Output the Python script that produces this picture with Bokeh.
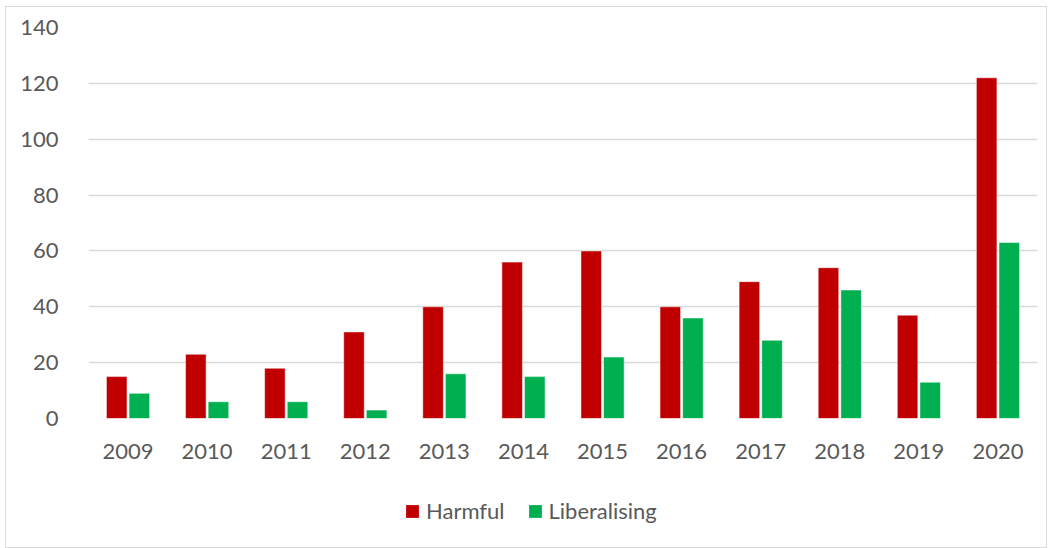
from bokeh.plotting import figure
from bokeh.layouts import column
from bokeh.models import ColumnDataSource, FactorRange, Range1d, FixedTicker, Legend, LegendItem
from bokeh.transform import dodge
from bokeh.embed import file_html
from bokeh.resources import INLINE

years = ["2009", "2010", "2011", "2012", "2013", "2014", "2015", "2016", "2017", "2018", "2019", "2020"]
harmful = [15, 23, 18, 31, 40, 56, 60, 40, 49, 54, 37, 122]
liberalising = [9, 6, 6, 3, 16, 15, 22, 36, 28, 46, 13, 63]
y_ticks = [0, 20, 40, 60, 80, 100, 120, 140]
series_names = ["Harmful", "Liberalising"]
series_colors = ["#C00000", "#00B050"]

FONT = "Lato"
TXT = "#595959"
FS = "22px"

src = ColumnDataSource(dict(year=years, harmful=harmful, liberalising=liberalising))

p = figure(
    width=1040, height=478,
    x_range=FactorRange(*years, range_padding=0),
    y_range=Range1d(0, 140),
    output_backend="svg", toolbar_location=None,
    min_border_left=82, min_border_right=9, min_border_top=20, min_border_bottom=67,
)

p.vbar(x=dodge("year", -0.143, range=p.x_range), top="harmful", width=0.26, source=src,
       fill_color=series_colors[0], line_color="white", line_width=0.5)
p.vbar(x=dodge("year", 0.143, range=p.x_range), top="liberalising", width=0.26, source=src,
       fill_color=series_colors[1], line_color="white", line_width=0.5)

p.outline_line_color = None
p.xgrid.grid_line_color = None
p.ygrid.grid_line_color = "#d9d9d9"
p.ygrid.grid_line_width = 1.5
p.yaxis.ticker = FixedTicker(ticks=y_ticks)

for ax in (p.xaxis, p.yaxis):
    ax.axis_line_color = None
    ax.major_tick_line_color = None
    ax.minor_tick_line_color = None
    ax.major_label_text_font = FONT
    ax.major_label_text_font_size = FS
    ax.major_label_text_color = TXT
p.yaxis.major_label_standoff = 24
p.xaxis.major_label_standoff = 19

# legend strip
lg = figure(
    width=1040, height=62, x_range=Range1d(0, 1), y_range=Range1d(0, 1),
    x_axis_location=None, y_axis_location=None,
    output_backend="svg", toolbar_location=None,
    min_border=0, min_border_left=0, min_border_right=0, min_border_top=0, min_border_bottom=0,
)
lg.grid.visible = False
lg.outline_line_color = None
swatch = ColumnDataSource(dict(x=[0], top=[0]))
d1 = lg.vbar(x="x", top="top", width=0.0, source=swatch, fill_color=series_colors[0], line_color=None)
d2 = lg.vbar(x="x", top="top", width=0.0, source=swatch, fill_color=series_colors[1], line_color=None)
legend = Legend(
    items=[LegendItem(label=series_names[0], renderers=[d1]),
           LegendItem(label=series_names[1], renderers=[d2])],
    orientation="horizontal", location=(316, 23),
    glyph_width=16, glyph_height=16, label_text_font=FONT, label_text_font_size=FS,
    label_text_color=TXT, spacing=22, padding=0, margin=0, label_standoff=6,
    border_line_color=None, background_fill_alpha=0,
)
lg.add_layout(legend, "center")

layout = column(p, lg, spacing=0)
layout.styles = {"margin-left": "5px", "margin-top": "6px", "border": "1px solid #d9d9d9"}

open("out.html", "w").write(file_html(layout, INLINE))
